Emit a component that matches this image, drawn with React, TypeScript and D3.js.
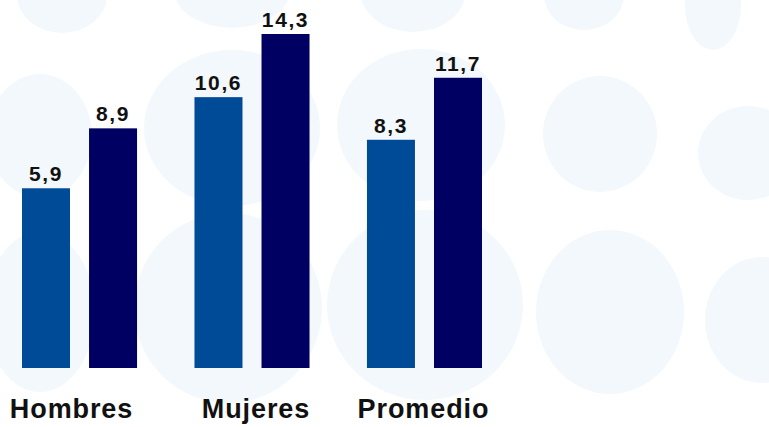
import React from "react";
import * as d3 from "d3";

const categories = ["Hombres", "Mujeres", "Promedio"];
const seriesKeys = ["serieA", "serieB"];
const serieA = [5.9, 10.6, 8.3];
const serieB = [8.9, 14.3, 11.7];
const valueLabels = [
  ["5,9", "10,6", "8,3"],
  ["8,9", "14,3", "11,7"],
];
const seriesColors = ["#004b97", "#000063"];
const labelShift = [-8, 4, -1];

// decorative pale background blobs
const blobs = [
  { cx: 62, cy: -5, rx: 45, ry: 38 },
  { cx: 232, cy: -10, rx: 58, ry: 38 },
  { cx: 413, cy: -10, rx: 53, ry: 42 },
  { cx: 584, cy: -5, rx: 40, ry: 35 },
  { cx: 713, cy: 5, rx: 28, ry: 45 },
  { cx: 40, cy: 136, rx: 52, ry: 62 },
  { cx: 232, cy: 128, rx: 88, ry: 78 },
  { cx: 421, cy: 125, rx: 84, ry: 76 },
  { cx: 600, cy: 134, rx: 57, ry: 58 },
  { cx: 748, cy: 153, rx: 50, ry: 47 },
  { cx: 40, cy: 312, rx: 55, ry: 80 },
  { cx: 228, cy: 308, rx: 94, ry: 95 },
  { cx: 425, cy: 305, rx: 98, ry: 95 },
  { cx: 610, cy: 312, rx: 74, ry: 82 },
  { cx: 762, cy: 320, rx: 57, ry: 63 },
];

const W = 769;
const H = 427;

export default function App() {
  const x0 = d3
    .scaleBand<string>()
    .domain(categories)
    .range([22, 482])
    .paddingInner(0.333)
    .paddingOuter(0);
  const x1 = d3
    .scaleBand<string>()
    .domain(seriesKeys)
    .range([0, x0.bandwidth()])
    .paddingInner(0.284);
  const y = d3.scalePow().exponent(0.7).domain([0, 14.3]).range([368, 34]);

  const series = [serieA, serieB];

  return (
    <svg
      width={W}
      height={H}
      style={{ position: "absolute", left: 0, top: 0, background: "#ffffff" }}
    >
      <rect x={0} y={0} width={W} height={H} fill="#ffffff" />
      {blobs.map((b, i) => (
        <ellipse key={i} cx={b.cx} cy={b.cy} rx={b.rx} ry={b.ry} fill="#f3f8fd" />
      ))}
      {categories.map((c, ci) => (
        <g key={c} transform={`translate(${x0(c)},0)`}>
          {series.map((vals, si) => {
            const v = vals[ci];
            const bx = x1(seriesKeys[si]) as number;
            return (
              <g key={si}>
                <rect
                  x={bx}
                  y={y(v)}
                  width={x1.bandwidth()}
                  height={y(0) - y(v)}
                  fill={seriesColors[si]}
                />
                <text
                  x={bx + x1.bandwidth() / 2}
                  y={y(v) - 7}
                  textAnchor="middle"
                  fontFamily="'Liberation Sans', Arial, sans-serif"
                  fontWeight="bold"
                  fontSize={21}
                  letterSpacing={1.6}
                  fill="#111"
                >
                  {valueLabels[si][ci]}
                </text>
              </g>
            );
          })}
          <text
            x={x0.bandwidth() / 2 + labelShift[ci]}
            y={418}
            textAnchor="middle"
            fontFamily="'Liberation Sans', Arial, sans-serif"
            fontWeight="bold"
            fontSize={27}
            letterSpacing={0.9}
            fill="#111"
          >
            {c}
          </text>
        </g>
      ))}
    </svg>
  );
}
